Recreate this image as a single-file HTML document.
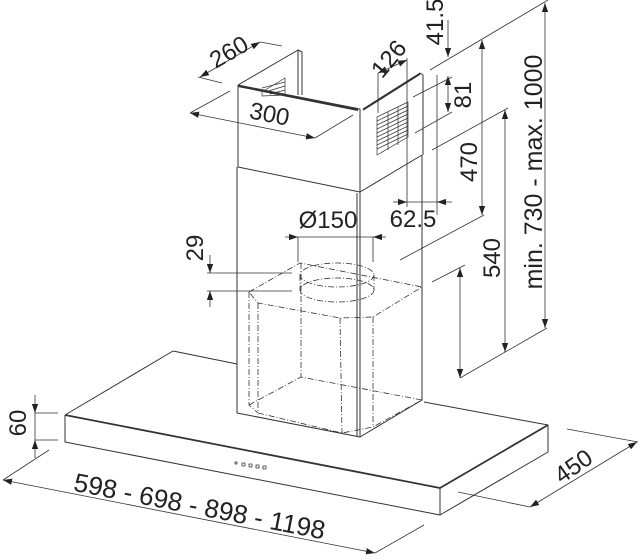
<!DOCTYPE html>
<html><head><meta charset="utf-8"><style>
html,body{margin:0;padding:0;background:#fff}
svg{display:block}
text{font-family:"Liberation Sans",sans-serif;fill:#222}
</style></head><body>
<svg width="640" height="560" viewBox="0 0 640 560" xmlns="http://www.w3.org/2000/svg">
<defs>
<marker id="a" viewBox="0 0 10 10" refX="10" refY="5" markerWidth="9" markerHeight="9" markerUnits="userSpaceOnUse" orient="auto-start-reverse">
<path d="M0,1.5 L10,5 L0,8.5 Z" fill="#222"/></marker>
</defs>
<g stroke="#333" fill="none" stroke-width="1" stroke-linejoin="round">
<!-- hood slab -->
<path d="M65,415 L173,351 L237,364 M424,402 L548,425 L548,452 L440,515 L65,442 L65,415 M440,488 L440,515" />
<path d="M65,415 L440,488 L548,425" stroke-width="1.8"/>
<!-- buttons -->
<g stroke-width="0.8"><rect x="235" y="462" width="2" height="2"/><rect x="242" y="463" width="3" height="3"/><rect x="249" y="464" width="3" height="3"/><rect x="256" y="465" width="3" height="3"/><rect x="263" y="466" width="3" height="3"/></g>
<!-- lower chimney -->
<path d="M237,167 L237,413 L360,437 L422,400 M360,192 L360,437 M357,193 L357,437 M422,155 L422,400"/>
<!-- upper chimney -->
<path d="M238,85 L298,50 L302,52 L302,95 M298,50 L298,95 M238,85 L360,109 L360,192 M238,85 L238,167 L360,192 L422,155 M363,109 L420,73 L423,75 L423,155" />
<path d="M238,86 L358,110" stroke-width="2"/>
<path d="M363,110 L420,74" stroke-width="1.6"/>
<!-- grilles -->
<g stroke-width="0.7">
<path d="M377,117 L408,102 L408,137 L377,155 Z"/>
<path d="M377,121 L408,106 M377,125 L408,110 M377,129 L408,114 M377,133 L408,118 M377,137 L408,122 M377,141 L408,126 M377,145 L408,130 M377,149 L408,134 M388,112 L388,150 M398,107 L398,145"/>
<path d="M262,92 L285,78 L285,95 L262,96 Z M262,88 L285,82 M265,92 L285,86 M270,94 L285,90"/>
</g>
<!-- motor box dashed -->
<g stroke-dasharray="6,2,1,2" stroke-width="0.8">
<path d="M249,292 L300,263 L422,287 L373,317 L340,318 L258,303 L249,292 Z"/>
<path d="M249,292 L249,405 L258,413 M258,303 L258,413 M340,318 L342,433 M373,317 L373,427 M422,287 L422,400 M249,405 L301,377 L422,400 M258,413 L342,433 L373,427 L422,400 M301,263 L301,377"/>
<ellipse cx="337" cy="275" rx="37" ry="12"/>
<ellipse cx="337" cy="290" rx="37" ry="12"/>
<path d="M300,275 L300,290 M374,275 L374,290"/>
</g>
</g>
<!-- dimension lines -->
<g stroke="#333" fill="none" stroke-width="0.8">
<path d="M35,413 L58,413 M35,440 L58,440"/>
<path d="M35,395 L35,413" marker-end="url(#a)"/><path d="M35,458 L35,440" marker-end="url(#a)"/>
<path d="M35,413 L35,440"/>
<path d="M3,480 L49,450 M375,553 L424,525"/>
<path d="M3,480 L375,553" marker-start="url(#a)" marker-end="url(#a)"/>
<path d="M458,492 L530,507 M567,429 L638,442"/>
<path d="M530,507 L637,442" marker-start="url(#a)" marker-end="url(#a)"/>
<path d="M198,77 L222,83 M260,42 L282,46"/>
<path d="M200,77 L260,42" marker-start="url(#a)" marker-end="url(#a)"/>
<path d="M190,113 L230,91 M315,138 L353,115"/>
<path d="M190,113 L315,138" marker-start="url(#a)" marker-end="url(#a)"/>
<path d="M378,73 L378,113 M407,58 L407,207"/>
<path d="M378,73 L407,60" marker-start="url(#a)" marker-end="url(#a)"/>
<path d="M437,75 L437,215"/>
<path d="M393,202 L407,202" marker-end="url(#a)"/><path d="M452,202 L437,202" marker-end="url(#a)"/>
<path d="M407,202 L437,202"/>
<path d="M298,237 L298,262 M373,237 L373,262"/>
<path d="M285,237 L298,237" marker-end="url(#a)"/><path d="M386,237 L373,237" marker-end="url(#a)"/>
<path d="M298,237 L373,237"/>
<path d="M207,273 L292,273 M207,291 L292,291"/>
<path d="M210,255 L210,273" marker-end="url(#a)"/><path d="M210,307 L210,291" marker-end="url(#a)"/>
<path d="M430,70 L548,0 M413,97 L452,77 M415,133 L452,112 M432,150 L508,108 M400,260 L484,215 M432,282 L465,265 M460,378 L547,328"/>
<path d="M448,20 L448,57" marker-end="url(#a)"/>
<path d="M448,76 L448,112" marker-start="url(#a)" marker-end="url(#a)"/>
<path d="M482,40 L482,215" marker-start="url(#a)" marker-end="url(#a)"/>
<path d="M505,110 L505,352" marker-start="url(#a)" marker-end="url(#a)"/>
<path d="M545,3 L545,328" marker-start="url(#a)" marker-end="url(#a)"/>
<path d="M460,268 L460,378" marker-start="url(#a)" marker-end="url(#a)"/>
</g>
<!-- labels -->
<g font-size="24">
<text transform="translate(26,423) rotate(-90)" text-anchor="middle">60</text>
<text transform="translate(198,515) rotate(11)" text-anchor="middle" font-size="26">598 - 698 - 898 - 1198</text>
<text transform="translate(578,473) rotate(-35)" text-anchor="middle">450</text>
<text transform="translate(233,59) rotate(-30)" text-anchor="middle">260</text>
<text transform="translate(268,122) rotate(11)" text-anchor="middle">300</text>
<text transform="translate(395,64) rotate(-50)" text-anchor="middle">126</text>
<text x="413" y="227" text-anchor="middle">62.5</text>
<text x="328" y="228" text-anchor="middle">Ø150</text>
<text transform="translate(203,248) rotate(-90)" text-anchor="middle">29</text>
<text transform="translate(443,22) rotate(-90)" text-anchor="middle">41.5</text>
<text transform="translate(471,95) rotate(-90)" text-anchor="middle">81</text>
<text transform="translate(477,162) rotate(-90)" text-anchor="middle">470</text>
<text transform="translate(500,258) rotate(-90)" text-anchor="middle">540</text>
<text transform="translate(542,172) rotate(-90)" text-anchor="middle" font-size="25">min. 730 - max. 1000</text>
</g>
</svg>
</body></html>
